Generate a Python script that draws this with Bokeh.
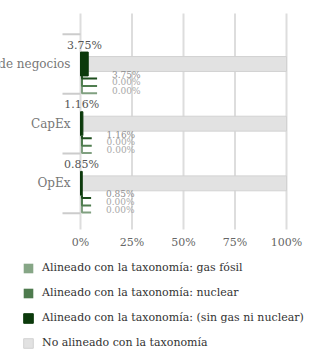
from bokeh.plotting import figure
from bokeh.models import Range1d, Legend, LegendItem
from bokeh.core.properties import value
from bokeh.embed import file_html
from bokeh.resources import INLINE

# ---- data ----
categories = ["Volumen de negocios", "CapEx", "OpEx"]
aligned_no_gas_nuclear = [3.75, 1.16, 0.85]
aligned_nuclear = [0.0, 0.0, 0.0]
aligned_fossil_gas = [0.0, 0.0, 0.0]
not_aligned = [96.25, 98.84, 99.15]
x_ticks = [0, 25, 50, 75, 100]
x_tick_labels = ["0%", "25%", "50%", "75%", "100%"]
series_names = [
    "Alineado con la taxonomía: gas fósil",
    "Alineado con la taxonomía: nuclear",
    "Alineado con la taxonomía: (sin gas ni nuclear)",
    "No alineado con la taxonomía",
]

# ---- layout / styles ----
W, H = 310, 356
X0_PX = 80.0          # pixel position of 0 %
PX_PER_PCT = 2.06
Y0_PX = 63.5          # pixel position of first category centre
PX_PER_CAT = 59.67

def ypx(px):
    return (px - Y0_PX) / PX_PER_CAT

FONT = "DejaVu Serif"
C_GAS = "#86a686"
C_NUC = "#4e7b4e"
C_DARK = "#0c3a0c"
C_GREY = "#e2e2e2"
LEAD_COLORS = ["#1d4d1d", "#4f7d4f", "#80a080"]  # sin gas, nuclear, gas

ypos = list(range(len(categories)))
total_aligned = [g + n + a for g, n, a in zip(aligned_fossil_gas, aligned_nuclear, aligned_no_gas_nuclear)]

p = figure(width=W, height=H, output_backend="svg", toolbar_location=None,
           x_range=Range1d(-X0_PX / PX_PER_PCT, (W - X0_PX) / PX_PER_PCT),
           y_range=Range1d(ypx(H), ypx(0)),
           x_axis_location=None, y_axis_location=None, min_border=0)
p.outline_line_color = None
p.background_fill_color = "white"
p.border_fill_color = "white"
p.xgrid.visible = False
p.ygrid.visible = False

# vertical grid lines of the value axis
p.segment(x0=x_ticks, x1=x_ticks, y0=[ypx(13)] * len(x_ticks), y1=[ypx(229)] * len(x_ticks),
          line_color="#dddddd", line_width=2)
# category separator ticks
bounds = [y - 0.5 for y in ypos] + [ypos[-1] + 0.5]
p.segment(x0=[-18 / PX_PER_PCT] * len(bounds), x1=[0] * len(bounds), y0=bounds, y1=bounds,
          line_color="#cccccc", line_width=2)
# value axis labels
p.text(x=x_ticks, y=[ypx(242)] * len(x_ticks), text=x_tick_labels,
       text_font=value(FONT), text_font_size="11px", text_color="#666666",
       text_align="center", text_baseline="middle")

# bars
r_grey = p.hbar(y=ypos, left=total_aligned,
                right=[t + v for t, v in zip(total_aligned, not_aligned)],
                height=0.25, fill_color=C_GREY, line_color="#d2d2d2", line_width=1)
r_gas = p.hbar(y=ypos, left=[0] * 3, right=aligned_fossil_gas, height=0.4,
               fill_color=C_GAS, line_color=None)
r_nuc = p.hbar(y=ypos, left=aligned_fossil_gas,
               right=[g + n for g, n in zip(aligned_fossil_gas, aligned_nuclear)],
               height=0.4, fill_color=C_NUC, line_color=None)
r_dark = p.hbar(y=ypos, left=[g + n for g, n in zip(aligned_fossil_gas, aligned_nuclear)],
                right=total_aligned, height=0.4, fill_color=C_DARK, line_color=C_DARK)

# leader lines (light first so the dark one sits on top)
lead_x = 0.7
offsets = [0.245, 0.37, 0.49]  # sin gas, nuclear, gas
for k in [2, 1, 0]:
    xs, ys = [], []
    for i, y in enumerate(ypos):
        xs.append([lead_x, lead_x, total_aligned[i] + 4.3])
        ys.append([y + 0.2, y + offsets[k], y + offsets[k]])
    p.multi_line(xs=xs, ys=ys, line_color=LEAD_COLORS[k], line_width=2)

# small per-series labels
label_offsets = [0.185, 0.31, 0.445]
series_vals = [aligned_no_gas_nuclear, aligned_nuclear, aligned_fossil_gas]
for k in range(3):
    p.text(x=[t + 11.5 for t in total_aligned], y=[y + label_offsets[k] for y in ypos],
           text=[f"{v:.2f}%" for v in series_vals[k]],
           text_font=value(FONT), text_font_size="9px",
           text_color="#8f8f8f" if k == 0 else "#a8a8a8",
           text_align="left", text_baseline="middle")

# total labels above bars
p.text(x=[t / 2 for t in total_aligned], y=[y - 0.317 for y in ypos],
       text=[f"{t:.2f}%" for t in total_aligned],
       text_font=value(FONT), text_font_size="11px", text_color="#555555",
       text_align="center", text_baseline="middle")

# category labels
p.text(x=[0] * 3, y=ypos, text=categories, x_offset=-10,
       text_font=value(FONT), text_font_size="12px", text_color="#777777",
       text_align="right", text_baseline="middle")

legend = Legend(items=[LegendItem(label=series_names[0], renderers=[r_gas]),
                       LegendItem(label=series_names[1], renderers=[r_nuc]),
                       LegendItem(label=series_names[2], renderers=[r_dark]),
                       LegendItem(label=series_names[3], renderers=[r_grey])],
                location=(22, 7), orientation="vertical",
                glyph_width=12, glyph_height=12, label_height=13, spacing=12,
                padding=0, margin=0, border_line_color=None, background_fill_alpha=0,
                label_text_font=FONT, label_text_font_size="11px",
                label_text_color="#333333", label_standoff=8)
p.add_layout(legend, "center")

open("out.html", "w").write(file_html(p, INLINE))
